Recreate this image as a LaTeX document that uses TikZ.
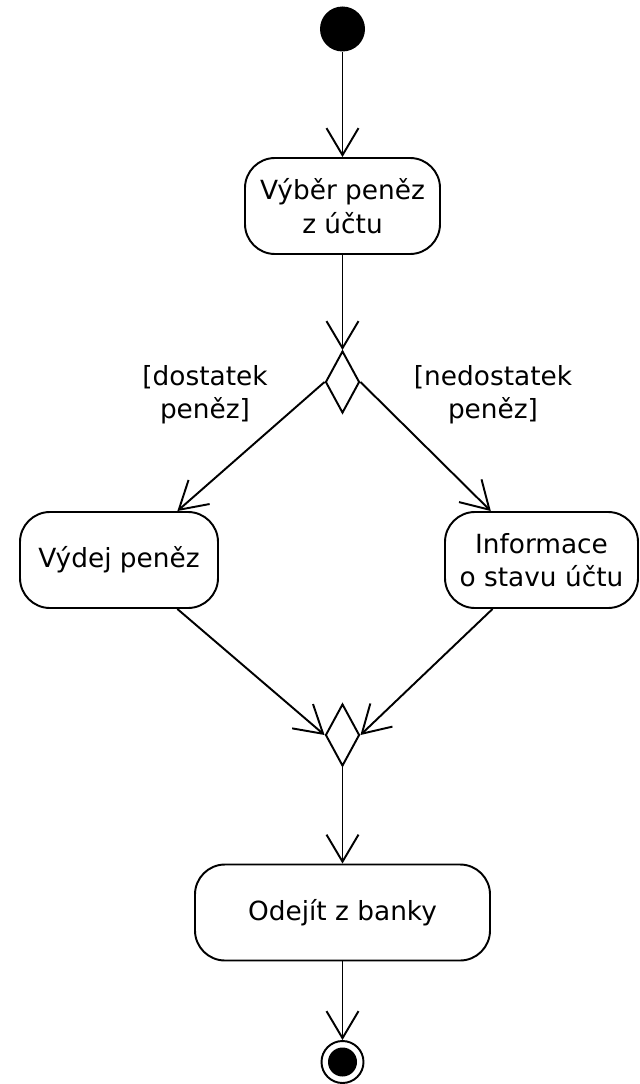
\documentclass[tikz,border=0pt]{standalone}
\usepackage{fontspec}
\setmainfont{DejaVu Sans}
\usetikzlibrary{positioning,shapes.geometric,arrows.meta}
\tikzstyle{akce}=[draw, rounded corners=0.6cm, minimum height=1.92cm, align=center, inner sep=0pt, font=\fontsize{15}{19}\selectfont]
\tikzstyle{rozh}=[draw, diamond, inner sep=0pt, minimum width=0.68cm, minimum height=1.24cm]
\tikzstyle{zac}=[circle, fill, inner sep=0pt, minimum size=0.9cm]
\tikzstyle{kon}=[circle, draw, inner sep=0pt, minimum size=0.84cm, path picture={\fill (path picture bounding box.center) circle (0.29cm);}]
\tikzstyle{podm}=[align=center, font=\fontsize{15}{19}\selectfont]
\tikzstyle{sip}=[-{Straight Barb[length=5.4mm,width=6.4mm]}]

\begin{document}
\begin{tikzpicture}[line width=1.1pt]
						\useasboundingbox (0,0) rectangle (12.8,-21.68);
						\node[zac] (s) at (6.85, -0.58) {};
						\node[akce, minimum width=3.9cm] (vyber) at (6.85, -4.12) {Výběr peněz\\z účtu};
						\node[rozh] (d1) at (6.85, -7.64) {};
						\node[podm] (dost) at (4.1, -7.9) {[dostatek\\peněz]};
						\node[podm] (nedost) at (9.86, -7.9) {[nedostatek\\peněz]};
						\node[akce, minimum width=3.96cm] (vydej) at (2.38, -11.2) {Výdej peněz};
						\node[akce, minimum width=3.86cm] (info) at (10.83, -11.2) {Informace\\o stavu účtu};
						\node[rozh] (d2) at (6.85, -14.7) {};
						\node[akce, minimum width=5.9cm] (odejit) at (6.85, -18.25) {Odejít z banky};
						\node[kon] (k) at (6.85, -21.24) {};
						\draw[sip](s) -- (vyber);
						\draw[sip](vyber) -- (d1);
						\draw[sip](d1.west) -- (vydej.40);
						\draw[sip](d1.east) -- (info.136);
						\draw[sip](vydej.-40) -- (d2.west);
						\draw[sip](info.-135) -- (d2.east);
						\draw[sip](d2) -- (odejit);
						\draw[sip](odejit) -- (k);
					\end{tikzpicture}
\end{document}
